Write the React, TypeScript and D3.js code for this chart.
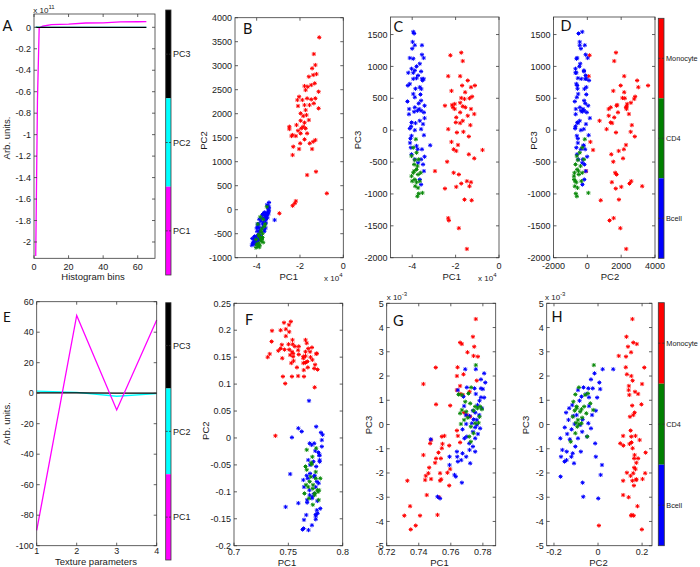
import React from "react";
import * as d3 from "d3";

const FONT = "'Liberation Sans', Arial, Helvetica, sans-serif";
const LETTER_FONT = "Lato, 'Open Sans', sans-serif";

// ---------- Panel A: histogram loadings (x 10^11) ----------
const histBins = [1, 2, 3, 5, 10, 20, 30, 40, 50, 60, 65];
const histLoadPC1 = [-2.13, -0.68, -0.005, 0.01, 0.025, 0.03, 0.04, 0.042, 0.05, 0.052, 0.053];
const histLoadPC2 = [0.002, 0.001, 0, 0, 0, 0, 0, 0, 0, 0, 0];
const histLoadPC3 = [0, 0, 0, 0, 0, 0, 0, 0, 0, 0, 0];

// ---------- Panel E: texture loadings ----------
const textureParams = [1, 2, 3, 4];
const texLoadPC1 = [-90, 51, -11, 48];
const texLoadPC2 = [1.3, 0.5, -2, -0.3];
const texLoadPC3 = [0.2, 0.2, 0.1, 0.1];

// ---------- Histogram PCA scores [PC1 (x10^4), PC2, PC3] ----------
const monocyteHist: number[][] = [
  [-2.95, -76, -642], [-2.49, 1729, 384], [-2.49, 1680, -916], [-2.39, 1535, -495], [-2.34, 1556, -1379],
  [-2.34, 1139, 16], [-2.34, 83, 847], [-2.31, 1313, -1416], [-2.24, 132, 1174], [-2.19, 1535, 616],
  [-2.19, 180, -184], [-2.16, 1764, 395], [-2.12, 2285, 358], [-2.09, 2160, -300], [-2.09, 1646, -668],
  [-2.04, 2354, 411], [-2.04, 1264, 332], [-1.99, 1382, 121], [-1.97, 2007, -889], [-1.97, 1854, -326],
  [-1.97, 1590, 200], [-1.94, 1694, -37], [-1.89, 2285, -232], [-1.85, 1951, -1537], [-1.85, 1729, -695],
  [-1.79, 2576, 430], [-1.79, 2180, 847], [-1.79, 1812, 279], [-1.79, 1465, 111], [-1.74, 2493, -837],
  [-1.74, 2076, 505], [-1.74, 1694, 1216], [-1.70, 1972, 700], [-1.67, 2319, 374], [-1.67, 1590, 1084],
  [-1.67, 722, 147], [-1.64, 2562, -26], [-1.59, 2771, 489], [-1.59, 1868, -1089], [-1.56, 2180, 595],
  [-1.55, 1382, 358], [-1.48, 2597, -800], [-1.48, 2298, -1863], [-1.44, 2944, 779], [-1.44, 1264, 226],
  [-1.39, 2806, -100], [-1.39, 1417, -379], [-1.36, 3243, -879], [-1.36, 2215, 500], [-1.32, 2632, 79],
  [-1.29, 3014, 674], [-1.29, 2319, 332], [-1.29, 1451, -816], [-1.26, 792, -1100], [-1.24, 2826, 526],
  [-1.14, 2458, 253], [-1.14, 2111, -442], [-1.11, 3590, 700], [-0.76, 340, -311],
];
const bcellHist: number[][] = [
  [-3.95, -300, 1542], [-3.91, -520, 1516], [-3.98, -450, 1384], [-3.88, -450, 1332], [-3.55, -150, 1332],
  [-4.0, -380, 1279], [-4.11, -600, 1132], [-3.95, -640, 1121], [-3.55, -100, 1184], [-3.47, 20, 1132],
  [-3.65, -420, 1042], [-4.03, -700, 963], [-4.18, -700, 900], [-3.88, -200, 937], [-3.59, -200, 921],
  [-3.73, -100, 858], [-3.55, -120, 805], [-3.47, -60, 805], [-3.95, -360, 805], [-3.80, -560, 816],
  [-4.11, -650, 726], [-3.65, -60, 674], [-3.58, -170, 647], [-3.95, -540, 568], [-3.88, -620, 516],
  [-3.59, -190, 463], [-3.43, 50, 384], [-4.14, -680, 332], [-3.88, -440, 358], [-3.76, -180, 305],
  [-3.59, -380, 305], [-3.68, -260, 332], [-3.91, -300, 289], [-3.46, -30, 279], [-3.43, 150, 189],
  [-4.03, -590, 121], [-3.85, -560, 111], [-3.65, -450, 147], [-3.50, -80, 95], [-4.11, -720, 26],
  [-3.88, -380, 0], [-3.59, -210, 16], [-4.03, -620, -89], [-4.08, -560, -132], [-3.46, 80, -79],
  [-3.17, -215, -237], [-4.06, -650, -274], [-3.80, -240, -247], [-3.55, -130, -300], [-3.43, -10, -416],
  [-3.88, -540, -458], [-3.59, -270, -458], [-3.73, -300, -511], [-3.50, -170, -537], [-4.03, -610, -379],
  [-3.46, -90, -642], [-3.65, -180, -774], [-3.59, -290, -853], [-4.22, -740, 450], [-4.15, -690, 250],
  [-4.20, -600, 700], [-4.10, -560, -200], [-4.05, -700, 60], [-3.95, -650, 900], [-3.85, -580, 650],
  [-3.80, -470, 1000], [-3.70, -120, 420], [-3.62, -60, 560], [-3.52, 100, 780], [-3.75, -380, -300],
];
const cd4Hist: number[][] = [
  [-3.83, -150, -142], [-3.95, -300, -274], [-3.80, -450, -353], [-4.03, -620, -405], [-3.88, -560, -468],
  [-3.70, -200, -458], [-3.91, -700, -537], [-3.80, -600, -616], [-3.95, -760, -668], [-3.73, -500, -695],
  [-3.88, -780, -774], [-4.00, -720, -800], [-3.80, -650, -816], [-3.65, -350, -800], [-3.86, -740, -879],
  [-3.73, -580, -905], [-3.53, 60, -984], [-3.70, -680, -995], [-3.76, -620, -1037], [-3.91, -520, -642],
  [-3.76, -400, -563], [-4.03, -790, -721], [-3.61, -300, -668],
];

// ---------- Texture PCA scores [PC1, PC2, PC3 (x10^-3)] ----------
const monocyteTex: number[][] = [
  [0.7310, 0.150, -3.76], [0.7329, 0.156, -2.32], [0.7346, 0.179, -3.37], [0.7350, 0.199, -4.33], [0.7381, 0.004, -4.17],
  [0.7408, 0.162, -3.76], [0.7429, 0.200, 1.67], [0.7429, 0.166, -1.26], [0.7440, 0.173, -2.29], [0.7444, 0.148, -2.12],
  [0.7450, 0.114, -2.91], [0.7460, 0.214, -2.01], [0.7465, 0.164, -1.78], [0.7471, 0.101, -0.78], [0.7477, 0.189, -0.64],
  [0.7477, 0.202, -2.25], [0.7502, 0.174, -1.58], [0.7506, 0.210, 2.35], [0.7508, 0.197, 0.83], [0.7508, 0.164, -1.40],
  [0.7517, 0.154, -3.73], [0.7523, 0.216, -1.16], [0.7527, 0.139, -3.00], [0.7533, 0.160, -2.01], [0.7533, 0.114, -2.32],
  [0.7538, 0.182, -1.40], [0.7540, 0.174, -2.26], [0.7544, 0.151, -0.50], [0.7544, 0.157, -0.98], [0.7548, 0.143, -0.80],
  [0.7560, 0.170, -0.47], [0.7579, 0.131, -1.99], [0.7590, 0.115, -0.87], [0.7590, 0.163, -2.52], [0.7596, 0.155, 0.78],
  [0.7596, 0.170, -1.84], [0.7638, 0.151, 2.00], [0.7638, 0.139, 1.42], [0.7638, 0.148, -0.25], [0.7642, 0.126, 2.36],
  [0.7644, 0.114, -0.47], [0.7658, 0.160, 3.38], [0.7658, 0.140, 1.59], [0.7658, 0.182, 1.26], [0.7658, 0.152, -0.74],
  [0.7669, 0.176, 3.32], [0.7675, 0.142, 1.22], [0.7679, 0.131, 2.07], [0.7683, 0.166, 0.49], [0.7700, 0.160, 0.39],
  [0.7704, 0.150, 2.98], [0.7717, 0.168, 1.35], [0.7721, 0.145, 0.32], [0.7738, 0.129, 3.62], [0.7742, 0.094, 2.83],
  [0.7746, 0.136, 3.21], [0.7756, 0.156, 4.35], [0.7762, 0.157, 1.81], [0.7769, 0.127, 2.80],
];
const bcellTex: number[][] = [
  [0.7690, 0.069, 2.28], [0.7756, 0.021, 2.28], [0.7808, -0.016, 2.11], [0.7788, -0.032, 1.86], [0.7815, 0.006, 1.73],
  [0.7700, -0.066, 1.53], [0.7748, -0.024, 1.49], [0.7788, -0.044, 1.49], [0.7800, 0.010, 1.46], [0.7644, -0.091, 1.42],
  [0.7756, -0.053, 1.26], [0.7679, -0.075, 1.15], [0.7788, -0.041, 1.12], [0.7808, -0.004, 1.11], [0.7779, -0.084, 0.98],
  [0.7767, -0.117, 0.80], [0.7683, -0.041, 0.76], [0.7794, -0.131, 0.67], [0.7738, -0.010, 0.57], [0.7752, -0.145, 0.49],
  [0.7694, -0.097, 0.39], [0.7777, -0.027, 0.39], [0.7717, -0.112, 0.35], [0.7742, -0.070, 0.21], [0.7762, -0.134, 0.19],
  [0.7731, -0.044, 0.05], [0.7696, -0.106, 0.02], [0.7762, -0.081, -0.02], [0.7752, -0.151, -0.12], [0.7783, -0.032, -0.16],
  [0.7673, -0.120, -0.20], [0.7738, -0.072, -0.30], [0.7769, -0.140, -0.39], [0.7700, -0.050, -0.50], [0.7685, -0.171, -0.57],
  [0.7752, -0.091, -0.57], [0.7475, -0.128, -0.61], [0.7715, -0.013, -0.78], [0.7738, -0.103, -0.91], [0.7717, -0.162, -1.05],
  [0.7638, -0.078, -1.12], [0.7752, -0.142, -1.12], [0.7673, -0.115, -1.19], [0.7640, -0.168, -1.33], [0.7696, -0.010, -1.33],
  [0.7592, -0.121, -1.33], [0.7665, -0.143, -1.47], [0.7644, -0.152, -1.53], [0.7721, -0.109, -1.60], [0.7592, 0.018, -1.67],
  [0.7623, 0.012, -2.08], [0.7631, -0.170, -2.15], [0.7669, -0.070, -2.40], [0.7517, -0.067, -2.98], [0.7533, 0.001, -3.05],
];
const cd4Tex: number[][] = [
  [0.7756, -0.019, 2.45], [0.7727, -0.087, 1.53], [0.7710, -0.046, 1.28], [0.7648, -0.103, 1.24], [0.7669, -0.059, 1.22],
  [0.7690, -0.112, 0.94], [0.7721, -0.035, 0.87], [0.7783, -0.097, 0.74], [0.7752, -0.063, 0.74], [0.7767, -0.097, 0.67],
  [0.7794, -0.075, 0.63], [0.7669, -0.022, 0.60], [0.7742, -0.106, 0.57], [0.7696, -0.081, 0.53], [0.7658, -0.053, 0.46],
  [0.7779, -0.115, 0.32], [0.7706, -0.072, 0.28], [0.7683, -0.091, 0.19], [0.7773, -0.100, 0.07], [0.7752, -0.075, 0.05],
  [0.7663, -0.087, 0.02], [0.7725, -0.094, -0.09], [0.7742, -0.103, -0.36], [0.7715, -0.049, -0.50], [0.7725, -0.124, -0.71],
];

// ---------- tick labels ----------
const ticksA_x = [0, 20, 40, 60];
const ticksA_y = [0, -0.2, -0.4, -0.6, -0.8, -1, -1.2, -1.4, -1.6, -1.8, -2];
const ticksE_x = [1, 2, 3, 4];
const ticksE_y = [60, 40, 20, 0, -20, -40, -60, -80, -100];
const ticksPC1hist = [-4, -2, 0];
const ticksPC2hist_y = [4000, 3500, 3000, 2500, 2000, 1500, 1000, 500, 0, -500, -1000];
const ticksPC3hist_y = [1500, 1000, 500, 0, -500, -1000, -1500, -2000];
const ticksPC2hist_x = [-2000, 0, 2000, 4000];
const ticksF_x = [0.7, 0.75, 0.8];
const ticksF_y = [0.25, 0.2, 0.15, 0.1, 0.05, 0, -0.05, -0.1, -0.15, -0.2];
const ticksG_x = [0.72, 0.74, 0.76, 0.78];
const ticksPC3tex_y = [5, 4, 3, 2, 1, 0, -1, -2, -3, -4, -5];
const ticksH_x = [-0.2, 0, 0.2];

const pcNames = ["PC3", "PC2", "PC1"];
const pcColors = ["#000000", "#00ffff", "#ff00ff"];
const cellNames = ["Monocyte", "CD4", "Bcell"];
const cellColors = ["#ff0000", "#008000", "#0000ff"];

const RED = "#ff0000";
const GREEN = "#0a8a0a";
const BLUE = "#0000ff";

type Lin = d3.ScaleLinear<number, number>;

function scales(l: number, r: number, t: number, b: number, xd: number[], yd: number[]) {
  return {
    x: d3.scaleLinear().domain(xd).range([l, r]),
    y: d3.scaleLinear().domain(yd).range([b, t]),
  };
}

function Frame({ x, y, xTicks, yTicks, lab = 10.8 }: { x: Lin; y: Lin; xTicks: number[]; yTicks: number[]; lab?: number }) {
  const [l, r] = x.range();
  const [b, t] = y.range();
  const st = "#3a3a3a";
  return (
    <g fontFamily={FONT} fontSize={9} fill="#1a1a1a">
      <rect x={l} y={t} width={r - l} height={b - t} fill="none" stroke={st} strokeWidth={0.8} />
      {xTicks.map((v) => (
        <g key={"x" + v}>
          <line x1={x(v)} x2={x(v)} y1={b} y2={b - 3} stroke={st} strokeWidth={0.8} />
          <line x1={x(v)} x2={x(v)} y1={t} y2={t + 3} stroke={st} strokeWidth={0.8} />
          <text x={x(v)} y={b + lab} textAnchor="middle">{String(v)}</text>
        </g>
      ))}
      {yTicks.map((v) => (
        <g key={"y" + v}>
          <line x1={l} x2={l + 3} y1={y(v)} y2={y(v)} stroke={st} strokeWidth={0.8} />
          <line x1={r} x2={r - 3} y1={y(v)} y2={y(v)} stroke={st} strokeWidth={0.8} />
          <text x={l - 3} y={y(v) + 3.2} textAnchor="end">{String(v)}</text>
        </g>
      ))}
    </g>
  );
}

function starPath(cx: number, cy: number) {
  const r = 2.1, a = 1.5;
  return `M${cx - r},${cy}h${2 * r}M${cx},${cy - r}v${2 * r}M${cx - a},${cy - a}l${2 * a},${2 * a}M${cx - a},${cy + a}l${2 * a},${-2 * a}`;
}

function Stars({ pts, xi, yi, x, y, color }: { pts: number[][]; xi: number; yi: number; x: Lin; y: Lin; color: string }) {
  const d = pts.map((p) => starPath(x(p[xi]), y(p[yi]))).join("");
  return <path d={d} stroke={color} strokeWidth={1} fill="none" />;
}

function Line({ xs, ys, x, y, color }: { xs: number[]; ys: number[]; x: Lin; y: Lin; color: string }) {
  const gen = d3.line<number>().x((_, i) => x(xs[i])).y((v) => y(v));
  return <path d={gen(ys) || ""} stroke={color} strokeWidth={1.3} fill="none" />;
}

function ColorBar({ l, r, t, b, colors, labels, fontSize }: { l: number; r: number; t: number; b: number; colors: string[]; labels: string[]; fontSize: number }) {
  const seg = d3.scaleBand<number>().domain(colors.map((_, i) => i)).range([t, b]);
  return (
    <g fontFamily={FONT} fontSize={fontSize} fill="#1a1a1a">
      {colors.map((c, i) => (
        <rect key={i} x={l} y={seg(i)!} width={r - l} height={seg.bandwidth()} fill={c} />
      ))}
      <rect x={l} y={t} width={r - l} height={b - t} fill="none" stroke="#3a3a3a" strokeWidth={0.8} />
      {labels.map((s, i) => {
        const yy = seg(i)! + seg.bandwidth() / 2;
        return (
          <g key={s}>
            <line x1={l} x2={l + 2} y1={yy} y2={yy} stroke="#333" strokeWidth={0.8} />
            <line x1={r - 2} x2={r} y1={yy} y2={yy} stroke="#333" strokeWidth={0.8} />
            <text x={r + 2} y={yy + fontSize * 0.35}>{s}</text>
          </g>
        );
      })}
    </g>
  );
}

function Letter({ x, y, s, size = 14.5 }: { x: number; y: number; s: string; size?: number }) {
  return <text x={x} y={y} fontFamily={LETTER_FONT} fontSize={size} fill="#111">{s}</text>;
}

function Label({ x, y, s, rotate = false }: { x: number; y: number; s: string; rotate?: boolean }) {
  return rotate ? (
    <text transform={`translate(${x},${y}) rotate(-90)`} textAnchor="middle" fontFamily={FONT} fontSize={9.5} fill="#1a1a1a">{s}</text>
  ) : (
    <text x={x} y={y} textAnchor="middle" fontFamily={FONT} fontSize={9.5} fill="#1a1a1a">{s}</text>
  );
}

function Exponent({ x, y, exp }: { x: number; y: number; exp: string }) {
  return (
    <text x={x} y={y} fontFamily={FONT} fontSize={8} fill="#1a1a1a">
      x 10<tspan dy={-4} fontSize={6}>{exp}</tspan>
    </text>
  );
}

export default function App() {
  const A = scales(34, 155, 14, 258.3, [0, 70], [-2.152, 0.124]);
  const E = scales(36.7, 156.7, 301.7, 545.7, [1, 4], [-100, 60]);
  const B = scales(235, 343.3, 17.7, 257.7, [-5, 0], [-1000, 4000]);
  const C = scales(390.5, 499, 17, 257.7, [-5, 0], [-2000, 1775]);
  const D = scales(553.5, 655, 17, 257.7, [-2000, 4000], [-2000, 1775]);
  const F = scales(234, 342.7, 303.3, 545.7, [0.7, 0.8], [-0.2, 0.25]);
  const G = scales(386.7, 495.7, 303.3, 545.7, [0.72, 0.788], [-5, 5]);
  const Hs = scales(546.7, 652, 303.3, 545.7, [-0.233, 0.245], [-5, 5]);

  const scatter = (s: { x: Lin; y: Lin }, xi: number, yi: number, mono: number[][], b: number[][], cd: number[][]) => (
    <g>
      <Stars pts={mono} xi={xi} yi={yi} x={s.x} y={s.y} color={RED} />
      <Stars pts={b} xi={xi} yi={yi} x={s.x} y={s.y} color={BLUE} />
      <Stars pts={cd} xi={xi} yi={yi} x={s.x} y={s.y} color={GREEN} />
    </g>
  );

  return (
    <svg width={700} height={567} viewBox="0 0 700 567" style={{ position: "absolute", left: 0, top: 0, background: "#fff" }}>
      <rect width={700} height={567} fill="#fff" />

      {/* Panel A */}
      <Line xs={histBins} ys={histLoadPC1} x={A.x} y={A.y} color="#ff00ff" />
      <Line xs={histBins} ys={histLoadPC2} x={A.x} y={A.y} color="#00ffff" />
      <Line xs={histBins} ys={histLoadPC3} x={A.x} y={A.y} color="#000000" />
      <Frame x={A.x} y={A.y} xTicks={ticksA_x} yTicks={ticksA_y} lab={11.5} />
      <Exponent x={33.3} y={13} exp="11" />
      <Letter x={2.5} y={30.7} s="A" />
      <Label x={93} y={280} s="Histogram bins" />
      <Label x={10.3} y={138} s="Arb. units." rotate />
      <ColorBar l={165.7} r={171} t={10} b={275} colors={pcColors} labels={pcNames} fontSize={9} />

      {/* Panel E */}
      <Line xs={textureParams} ys={texLoadPC2} x={E.x} y={E.y} color="#00ffff" />
      <Line xs={textureParams} ys={texLoadPC3} x={E.x} y={E.y} color="#000000" />
      <Line xs={textureParams} ys={texLoadPC1} x={E.x} y={E.y} color="#ff00ff" />
      <Frame x={E.x} y={E.y} xTicks={ticksE_x} yTicks={ticksE_y} lab={8.5} />
      <Letter x={3} y={321.7} s="E" size={13.5} />
      <Label x={96} y={564.5} s="Texture parameters" />
      <Label x={10.3} y={423.5} s="Arb. units." rotate />
      <ColorBar l={165.7} r={171} t={302.7} b={560} colors={pcColors} labels={pcNames} fontSize={9} />

      {/* Panel B */}
      {scatter(B, 0, 1, monocyteHist, bcellHist, cd4Hist)}
      <Frame x={B.x} y={B.y} xTicks={ticksPC1hist} yTicks={ticksPC2hist_y} />
      <Letter x={243} y={34} s="B" />
      <Label x={288.7} y={280} s="PC1" />
      <Label x={207} y={140.5} s="PC2" rotate />
      <Exponent x={324} y={281} exp="4" />

      {/* Panel C */}
      {scatter(C, 0, 2, monocyteHist, bcellHist, cd4Hist)}
      <Frame x={C.x} y={C.y} xTicks={ticksPC1hist} yTicks={ticksPC3hist_y} />
      <Letter x={393.5} y={32} s="C" />
      <Label x={451.7} y={280} s="PC1" />
      <Label x={360.5} y={140} s="PC3" rotate />
      <Exponent x={478} y={281} exp="4" />

      {/* Panel D */}
      {scatter(D, 1, 2, monocyteHist, bcellHist, cd4Hist)}
      <Frame x={D.x} y={D.y} xTicks={ticksPC2hist_x} yTicks={ticksPC3hist_y} />
      <Letter x={560.5} y={31} s="D" />
      <Label x={610} y={279.5} s="PC2" />
      <Label x={537} y={140.5} s="PC3" rotate />
      <ColorBar l={658.3} r={664} t={18.3} b={258.3} colors={cellColors} labels={cellNames} fontSize={7.3} />

      {/* Panel F */}
      {scatter(F, 0, 1, monocyteTex, bcellTex, cd4Tex)}
      <Frame x={F.x} y={F.y} xTicks={ticksF_x} yTicks={ticksF_y} lab={9.3} />
      <Letter x={245} y={325} s="F" />
      <Label x={287} y={566} s="PC1" />
      <Label x={208.5} y={430.7} s="PC2" rotate />

      {/* Panel G */}
      {scatter(G, 0, 2, monocyteTex, bcellTex, cd4Tex)}
      <Frame x={G.x} y={G.y} xTicks={ticksG_x} yTicks={ticksPC3tex_y} lab={9.3} />
      <Letter x={393} y={326} s="G" />
      <Label x={439.5} y={566} s="PC1" />
      <Label x={372} y={425} s="PC3" rotate />
      <Exponent x={386.7} y={300} exp="-3" />

      {/* Panel H */}
      {scatter(Hs, 1, 2, monocyteTex, bcellTex, cd4Tex)}
      <Frame x={Hs.x} y={Hs.y} xTicks={ticksH_x} yTicks={ticksPC3tex_y} lab={9.3} />
      <Letter x={551.5} y={322} s="H" />
      <Label x={598.5} y={566} s="PC2" />
      <Label x={528.5} y={425} s="PC3" rotate />
      <Exponent x={545} y={300} exp="-3" />
      <ColorBar l={658.3} r={664.3} t={302.7} b={545.7} colors={cellColors} labels={cellNames} fontSize={7.3} />
    </svg>
  );
}
